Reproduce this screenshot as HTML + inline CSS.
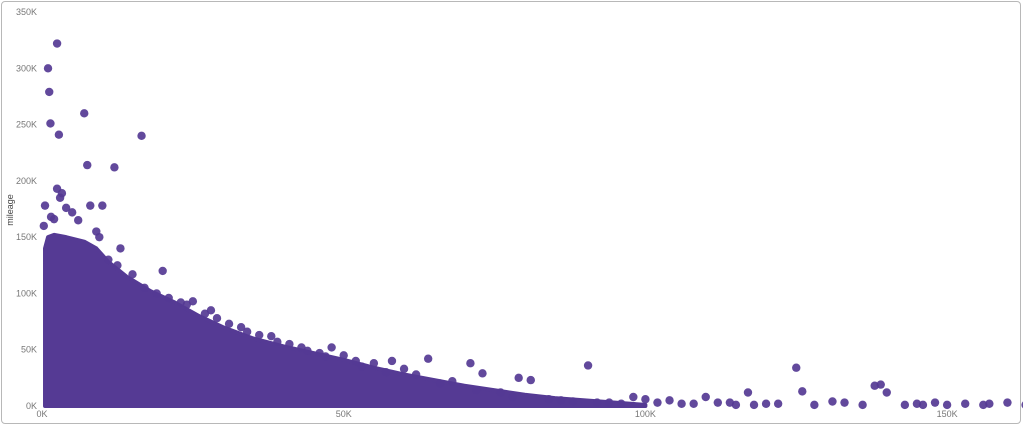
<!DOCTYPE html>
<html><head><meta charset="utf-8"><style>
body{margin:0;background:#fff;font-family:"Liberation Sans",sans-serif}
#frame{position:absolute;left:1px;top:1px;width:1018px;height:421px;border:1px solid #b8b8b8;border-radius:4px}
</style></head><body>
<div id="frame"></div>
<svg id="chart" width="1023" height="426" style="position:absolute;left:0;top:0"></svg>
<script>
const yTicks=[0,50,100,150,200,250,300,350];
const xTicks=[0,50,100,150];
// envelope of dense point mass: price (K), max mileage (K)
const envPrice=[0.5,1,2,4,7,9,11,14,18,22,26,30,35,40,45,50,55,60,65,70,75,80,85,90,95,100];
const envMileage=[140,150,152,150,146,140,128,115,102,92,80,70,60,53,47,41,34,28,23,18,14,10,7,5,3,1];
// outlier / edge points
const ptPrice=[1,1.2,1.4,2.5,2.8,7,16.5,7.5,12,2.5,3.3,8,3,5,10,4,13,20,15,28,25,38,50,48,55,60,58,64,71,73,79,81,90.5,92,98,100,104,108,110,112,115,117,120,125,126,131,136,138,139,140,143,146,148,156,157,163,0.5,1.5,2,0.3,
6,9,11,17,19,23,27,31,33,36,41,43,46,52,53,57,62,66,68,72,76,78,84,86,88,94,96,102,106,114,118,122,128,133,145,150,153,160,9.5,12.5,21,24,29,34,39,44,47];
const ptMileage=[300,279,251,322,241,260,240,214,212,193,189,178,185,172,178,176,140,120,117,85,93,62,45,52,38,33,40,42,38,29,25,23,36,3,8,6,5,2,8,3,1,12,2,34,13,4,1,18,19,12,1,1,3,1,2,1,178,168,166,160,
165,155,130,105,100,92,82,73,70,63,55,52,47,40,35,30,28,20,22,14,12,8,6,5,4,3,2,3,2,3,1,2,1,3,2,1,2,3,150,125,96,90,78,66,57,49,44];
const X=v=>42+v*6.034, Y=v=>406-v*1.1257;
const svg=document.getElementById('chart'),NS='http://www.w3.org/2000/svg';
function mk(t,a){const e=document.createElementNS(NS,t);for(const k in a)e.setAttribute(k,a[k]);svg.appendChild(e);return e;}
yTicks.forEach(v=>{const t=mk('text',{x:37,y:Y(v)+3,'text-anchor':'end','font-size':9,fill:'#777'});t.textContent=v+'K';

});
xTicks.forEach(v=>{const t=mk('text',{x:X(v),y:417,'text-anchor':'middle','font-size':9,fill:'#777'});t.textContent=v+'K';

});
const yt=mk('text',{x:13,y:210,'text-anchor':'middle','font-size':9,fill:'#444',transform:'rotate(-90 13 210)'});yt.textContent='mileage';


let d='M'+X(envPrice[0])+','+Y(0);
envPrice.forEach((p,i)=>{d+=' L'+X(p)+','+Y(envMileage[i]);});
d+=' L'+X(envPrice[envPrice.length-1])+','+Y(0)+' Z';
const area=mk('path',{d:d,fill:'#553a94',stroke:'#553a94','stroke-width':4,'stroke-linejoin':'round'});


ptPrice.forEach((p,i)=>{const c=mk('circle',{cx:X(p),cy:Y(ptMileage[i]),r:4.2,fill:'#553a94','fill-opacity':0.92});

});
</script>
</body></html>
